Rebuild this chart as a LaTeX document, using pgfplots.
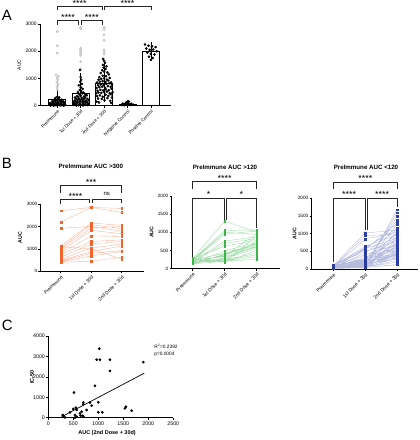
\documentclass[border=0pt]{standalone}
\usepackage{pgfplots}
\pgfplotsset{compat=1.18}
\usepackage{pgfplotstable}
\usepackage{fontspec}
\setmainfont{Liberation Sans}
\newcommand\ft[1]{\fontsize{#1}{#1}\selectfont}
\definecolor{orng}{HTML}{F0642D}
\definecolor{grn}{HTML}{3CB44A}
\definecolor{blu}{HTML}{2B3D9E}

% ---------- Panel A data ----------
\pgfplotstableread[row sep=\\]{x y\\
0 2720\\0 2200\\0 1930\\-0.05 1130\\0.05 1080\\0 1030\\0.02 960\\-0.02 870\\0.03 800\\0 700\\0 600\\
1 2870\\1 2820\\1 2110\\1 2060\\1 2010\\1 1960\\1 1900\\1 1850\\1 1620\\1 1350\\
2 2870\\2 2800\\2 2600\\2 2400\\2 2050\\2 1980\\2 1900\\}\Agray

\pgfplotstableread[row sep=\\]{x y\\
-0.30 20\\-0.20 35\\-0.10 15\\0.00 40\\0.10 25\\0.20 30\\0.30 18\\-0.25 60\\-0.15 70\\-0.05 55\\0.05 80\\0.15 65\\0.25 50\\
-0.30 90\\-0.18 100\\-0.06 110\\0.06 95\\0.18 120\\0.30 105\\-0.22 140\\-0.10 150\\0.02 130\\0.14 160\\0.26 145\\
-0.20 180\\-0.05 200\\0.10 190\\0.22 170\\-0.12 230\\0.04 250\\0.18 220\\-0.08 280\\0.08 300\\0.00 330\\
-0.15 10\\0.15 12\\0.25 8\\-0.28 5\\0.33 45\\-0.33 75\\0.12 40\\-0.02 20\\
0.70 30\\0.80 50\\0.90 20\\1.00 40\\1.10 60\\1.20 35\\1.30 25\\0.72 80\\0.84 100\\0.96 90\\1.08 110\\1.20 95\\1.32 75\\
0.68 130\\0.78 150\\0.88 140\\0.98 160\\1.08 170\\1.18 155\\1.28 135\\0.74 190\\0.86 210\\0.98 200\\1.10 220\\1.22 185\\1.34 205\\
0.80 250\\0.92 260\\1.04 240\\1.16 270\\1.28 255\\0.76 300\\0.90 320\\1.04 290\\1.18 310\\0.84 350\\1.00 370\\1.14 340\\1.26 380\\
0.94 420\\1.06 450\\1.20 410\\0.88 500\\1.02 530\\1.12 480\\0.96 580\\1.08 620\\1.00 680\\0.92 750\\1.05 800\\0.98 880\\1.02 950\\
1.00 1050\\0.97 1310\\1.10 10\\0.82 5\\
1.68 150\\1.78 120\\1.90 250\\2.02 200\\2.14 280\\2.26 180\\2.34 300\\1.70 350\\1.82 380\\1.94 330\\2.06 400\\2.18 360\\2.30 420\\
1.66 450\\1.76 480\\1.88 470\\2.00 500\\2.12 520\\2.24 460\\2.36 490\\1.72 550\\1.84 580\\1.96 560\\2.08 600\\2.20 570\\2.32 620\\
1.68 650\\1.80 680\\1.92 700\\2.04 660\\2.16 720\\2.28 690\\1.74 750\\1.86 780\\1.98 760\\2.10 800\\2.22 820\\2.34 770\\
1.70 850\\1.82 880\\1.94 900\\2.06 870\\2.18 920\\2.30 860\\1.76 950\\1.88 980\\2.00 1000\\2.12 960\\2.24 1020\\
1.80 1050\\1.94 1100\\2.08 1080\\2.20 1150\\1.86 1200\\2.00 1250\\2.14 1220\\1.92 1300\\2.06 1350\\1.98 1400\\2.10 1450\\
1.95 1500\\2.04 1580\\2.00 1650\\1.96 1720\\2.30 100\\1.74 260\\
2.75 30\\2.85 45\\2.95 60\\3.05 40\\3.15 55\\3.25 35\\2.80 75\\2.92 90\\3.04 85\\3.16 70\\3.00 110\\2.96 130\\3.06 150\\3.02 165\\2.88 20\\3.12 25\\
3.75 2250\\3.90 2200\\4.05 2180\\4.20 2150\\3.80 2100\\3.95 2050\\4.10 2060\\4.25 2000\\3.85 1950\\4.00 1900\\4.15 1880\\3.92 1800\\4.08 1750\\4.00 1680\\}\Ablack

% ---------- Panel B data (subjects separated by nan) ----------
\pgfplotstableread[row sep=\\]{x y\\
0 2700\\1 2850\\2 2800\\nan nan\\0 2200\\1 2850\\2 2620\\nan nan\\0 1920\\1 2000\\2 1780\\nan nan\\
0 1130\\1 2150\\2 2050\\nan nan\\0 1050\\1 2080\\2 1900\\nan nan\\0 1000\\1 1930\\2 2000\\nan nan\\
0 900\\1 1820\\2 1680\\nan nan\\0 820\\1 1580\\2 1550\\nan nan\\0 750\\1 1330\\2 1400\\nan nan\\
0 620\\1 1220\\2 1330\\nan nan\\0 550\\1 1030\\2 1220\\nan nan\\0 480\\1 880\\2 1130\\nan nan\\
0 450\\1 800\\2 920\\nan nan\\0 420\\1 690\\2 880\\nan nan\\0 400\\1 450\\2 620\\nan nan\\0 1100\\1 1000\\2 540\\}\Bor

\pgfplotstableread[row sep=\\]{x y\\
0 280\\1 1310\\2 1000\\nan nan\\0 260\\1 1050\\2 1070\\nan nan\\0 240\\1 1000\\2 950\\nan nan\\
0 220\\1 950\\2 1040\\nan nan\\0 200\\1 760\\2 880\\nan nan\\0 180\\1 700\\2 820\\nan nan\\
0 270\\1 620\\2 780\\nan nan\\0 160\\1 480\\2 740\\nan nan\\0 250\\1 420\\2 700\\nan nan\\
0 150\\1 380\\2 650\\nan nan\\0 230\\1 330\\2 620\\nan nan\\0 140\\1 300\\2 600\\nan nan\\
0 210\\1 270\\2 560\\nan nan\\0 190\\1 250\\2 420\\nan nan\\0 170\\1 230\\2 380\\nan nan\\
0 290\\1 210\\2 330\\nan nan\\0 135\\1 200\\2 260\\nan nan\\0 260\\1 190\\2 900\\nan nan\\
0 200\\1 180\\2 500\\nan nan\\0 150\\1 400\\2 680\\nan nan\\0 225\\1 350\\2 970\\nan nan\\0 175\\1 220\\2 750\\}\Bgr

\pgfplotstableread[row sep=\\]{x y\\
0 60\\1 60\\2 1680\\nan nan\\0 40\\1 80\\2 1590\\nan nan\\0 90\\1 120\\2 1490\\nan nan\\
0 30\\1 250\\2 1380\\nan nan\\0 70\\1 150\\2 1260\\nan nan\\0 100\\1 1020\\2 1100\\nan nan\\
0 50\\1 850\\2 1040\\nan nan\\0 80\\1 640\\2 970\\nan nan\\0 20\\1 580\\2 880\\nan nan\\
0 110\\1 500\\2 790\\nan nan\\0 60\\1 400\\2 690\\nan nan\\0 45\\1 340\\2 600\\nan nan\\
0 75\\1 260\\2 550\\nan nan\\0 35\\1 190\\2 460\\nan nan\\0 95\\1 120\\2 360\\nan nan\\
0 55\\1 80\\2 290\\nan nan\\0 25\\1 60\\2 190\\nan nan\\0 85\\1 40\\2 130\\nan nan\\
0 65\\1 300\\2 1000\\nan nan\\0 15\\1 210\\2 950\\nan nan\\0 105\\1 160\\2 1060\\nan nan\\
0 50\\1 100\\2 820\\nan nan\\0 70\\1 90\\2 740\\nan nan\\0 40\\1 70\\2 650\\nan nan\\
0 30\\1 50\\2 500\\nan nan\\0 80\\1 110\\2 420\\nan nan\\0 60\\1 140\\2 520\\nan nan\\
0 90\\1 180\\2 600\\nan nan\\0 20\\1 230\\2 700\\nan nan\\0 100\\1 270\\2 850\\nan nan\\
0 50\\1 450\\2 1120\\nan nan\\0 75\\1 550\\2 1300\\nan nan\\0 35\\1 60\\2 240\\nan nan\\
0 65\\1 130\\2 310\\nan nan\\0 115\\1 200\\2 380\\nan nan\\0 45\\1 90\\2 450\\nan nan\\
0 85\\1 35\\2 560\\nan nan\\0 55\\1 75\\2 680\\nan nan\\0 25\\1 110\\2 760\\nan nan\\
0 95\\1 160\\2 900\\nan nan\\0 10\\1 40\\2 120\\nan nan\\0 70\\1 65\\2 330\\nan nan\\
0 40\\1 100\\2 400\\nan nan\\0 60\\1 950\\2 980\\nan nan\\0 80\\1 600\\2 1150\\}\Bbl

% ---------- Panel C data ----------
\pgfplotstableread[row sep=\\]{x y\\
1020 3380\\967 2840\\1033 2840\\1233 2840\\1233 2290\\1900 2720\\933 1560\\513 1230\\
700 740\\700 660\\833 740\\867 590\\1000 754\\553 490\\500 430\\567 380\\433 260\\
300 100\\287 130\\333 16\\533 130\\533 0\\567 50\\633 210\\667 295\\687 98\\647 98\\
700 49\\1000 262\\1080 262\\1533 460\\1553 540\\1667 344\\767 377\\}\Cpts

\pgfplotsset{prism/.style={
  scale only axis, anchor=south west, clip=false,
  axis x line*=bottom, axis y line*=left,
  axis line style={line width=0.8pt, black},
  tick style={line width=0.7pt, black},
  tick align=outside, major tick length=2.2bp,
  /pgf/number format/assume math mode=true,
  /pgf/number format/set thousands separator={},
  yticklabel style={inner sep=1bp, font=\ft{5}},
  ylabel style={anchor=center},
},
rotlab/.style={xticklabel style={rotate=45, anchor=north east, inner sep=1bp, font=\ft{#1}}}}

\begin{document}
\begin{tikzpicture}
\useasboundingbox (0,0) rectangle (420bp,440bp);

% ---------------- A ----------------
\begin{axis}[prism, rotlab=4.6, at={(40bp,334.3bp)}, width=131bp, height=81.7bp,
  xmin=-0.74, xmax=4.86, ymin=0, ymax=3000,
  ytick={0,1000,2000,3000}, xtick={0,1,2,3,4},
  xticklabels={Preimmune,1st Dose + 30d,2nd Dose + 30d,Negative Control,Positive Control},
  ylabel={AUC}, ylabel style={at={(axis description cs:-0.16,0.5)}, font=\ft{5}}]
\addplot[ybar, bar width=17bp, fill=white, draw=black, line width=0.9pt,
  error bars/.cd, y dir=both, y explicit,
  error bar style={line width=0.7pt, black},
  error mark options={line width=0.7pt, black, mark size=3.5bp}]
  coordinates {(0,220) += (0,460) -= (0,0)
               (1,460) += (0,630) -= (0,0)
               (2,820) += (0,620) -= (0,560)
               (3,60)  += (0,0) -= (0,0)
               (4,1990) += (0,220) -= (0,200)};
\addplot[only marks, mark=*, mark size=1.2bp, draw=gray!50, fill=gray!25] table {\Agray};
\addplot[only marks, mark=*, mark size=1.1bp, black] table {\Ablack};
\end{axis}

% ---------------- B1 ----------------
\begin{axis}[prism, rotlab=4.8, at={(40.7bp,168.7bp)}, width=103.3bp, height=67.3bp,
  xmin=-0.66, xmax=2.73, ymin=0, ymax=3000,
  ytick={0,1000,2000,3000}, xtick={0,1,2},
  xticklabels={Preimmune,1st Dose + 30d,2nd Dose + 30d},
  yticklabel style={font=\ft{4.7}},
  unbounded coords=jump,
  ylabel={AUC}, ylabel style={at={(axis description cs:-0.2,0.5)}, font=\ft{5.2}\bfseries}]
\addplot[orng!45, line width=0.4pt, mark=none] table {\Bor};
\addplot[orng, only marks, mark=square*, mark size=0.9bp] table {\Bor};
\end{axis}

% ---------------- B2 ----------------
\begin{axis}[prism, rotlab=4.8, at={(171.7bp,171.3bp)}, width=108.3bp, height=72.7bp,
  xmin=-0.66, xmax=2.73, ymin=0, ymax=2000,
  ytick={0,500,1000,1500,2000}, xtick={0,1,2},
  xticklabels={Preimmune,1st Dose + 30d,2nd Dose + 30d},
  yticklabel style={font=\ft{4.7}},
  unbounded coords=jump,
  ylabel={AUC}, ylabel style={at={(axis description cs:-0.185,0.5)}, font=\ft{5.2}\bfseries}]
\addplot[grn!45, line width=0.4pt, mark=none] table {\Bgr};
\addplot[grn, only marks, mark=square*, mark size=0.9bp] table {\Bgr};
\end{axis}

% ---------------- B3 ----------------
\begin{axis}[prism, rotlab=4.8, at={(311.7bp,171bp)}, width=106.3bp, height=70.7bp,
  xmin=-0.675, xmax=2.65, ymin=0, ymax=2000,
  ytick={0,500,1000,1500,2000}, xtick={0,1,2},
  xticklabels={Preimmune,1st Dose + 30d,2nd Dose + 30d},
  yticklabel style={font=\ft{4.7}},
  unbounded coords=jump,
  ylabel={AUC}, ylabel style={at={(axis description cs:-0.16,0.5)}, font=\ft{5.2}\bfseries}]
\addplot[blu!35, line width=0.35pt, mark=none] table {\Bbl};
\addplot[blu, only marks, mark=square*, mark size=0.85bp] table {\Bbl};
\end{axis}

% ---------------- C ----------------
\begin{axis}[prism, at={(48.3bp,22.3bp)}, width=125bp, height=81.7bp,
  xmin=0, xmax=2500, ymin=0, ymax=4000,
  xtick={0,500,1000,1500,2000,2500}, ytick={0,1000,2000,3000,4000},
  xticklabel style={font=\ft{5.3}, inner sep=1.5bp},
  yticklabel style={font=\ft{5.3}},
  xlabel={AUC (2nd Dose + 30d)}, xlabel style={at={(axis description cs:0.47,-0.19)}, anchor=center, font=\ft{5.5}\bfseries},
  ylabel={IC-50}, ylabel style={at={(axis description cs:-0.13,0.5)}, font=\ft{5.5}\bfseries}]
\addplot[black, line width=0.7pt, mark=none] coordinates {(267,49) (1920,2180)};
\addplot[only marks, mark=*, mark size=1.15bp, black] table {\Cpts};
\end{axis}

% ---------------- annotations (pixel coords, y down) ----------------
\begin{scope}[x=1bp, y=-1bp, shift={(0bp,440bp)}, line width=0.75pt, draw=black!85]
  % panel letters
  \node[anchor=base west, inner sep=0, font=\ft{15}] at (1.5,20.7) {A};
  \node[anchor=base west, inner sep=0, font=\ft{15}] at (1.5,168.3) {B};
  \node[anchor=base west, inner sep=0, font=\ft{15}] at (1.5,331) {C};
  % A brackets
  \draw (57.3,25)--(57.3,20)--(78.8,20)--(78.8,25);
  \draw (81.5,25)--(81.5,20)--(102.3,20)--(102.3,25);
  \draw (57.3,10)--(57.3,6)--(102,6)--(102,10);
  \draw (104,10)--(104,6)--(151,6)--(151,10);
  \node[anchor=base, inner sep=0, font=\ft{9}] at (68,20.2) {****};
  \node[anchor=base, inner sep=0, font=\ft{9}] at (91.9,20.2) {****};
  \node[anchor=base, inner sep=0, font=\ft{9}] at (79.7,6.9) {****};
  \node[anchor=base, inner sep=0, font=\ft{9}] at (127.5,6.9) {****};
  % B titles
  \node[font=\ft{6.2}\bfseries] at (90.8,166) {PreImmune AUC >300};
  \node[font=\ft{6.2}\bfseries] at (225,167) {PreImmune AUC >120};
  \node[font=\ft{6.2}\bfseries] at (366,167) {PreImmune AUC <120};
  % B1 brackets
  \draw (60.7,193)--(60.7,185)--(121.7,185)--(121.7,193);
  \draw (60.7,204.5)--(60.7,199.3)--(89.5,199.3)--(89.5,203);
  \draw (92,203)--(92,199.3)--(121.7,199.3)--(121.7,203.5);
  \node[anchor=base, inner sep=0, font=\ft{9}] at (91.2,185.2) {***};
  \node[anchor=base, inner sep=0, font=\ft{9}] at (75.5,199.2) {****};
  \node[anchor=base, inner sep=0, font=\ft{6}] at (106.8,195.8) {ns};
  % B2 brackets
  \draw (192.7,189)--(192.7,181.7)--(256.7,181.7)--(256.7,189);
  \draw (192.7,257)--(192.7,198.3)--(224,198.3)--(224,220);
  \draw (226,220)--(226,198.3)--(256.7,198.3)--(256.7,228);
  \node[anchor=base, inner sep=0, font=\ft{9}] at (224.7,181.2) {****};
  \node[anchor=base, inner sep=0, font=\ft{9}] at (208.5,197.5) {*};
  \node[anchor=base, inner sep=0, font=\ft{9}] at (241.3,197.5) {*};
  % B3 brackets
  \draw (333.3,189)--(333.3,182.3)--(397.3,182.3)--(397.3,189);
  \draw (333.3,262)--(333.3,198.3)--(365,198.3)--(365,230);
  \draw (367,230)--(367,198.3)--(397.3,198.3)--(397.3,207);
  \node[anchor=base, inner sep=0, font=\ft{9}] at (365.3,181.9) {****};
  \node[anchor=base, inner sep=0, font=\ft{9}] at (349.2,197.5) {****};
  \node[anchor=base, inner sep=0, font=\ft{9}] at (382.2,197.5) {****};
  % C annotation
  \node[anchor=base west, inner sep=0, font=\ft{4.8}] at (154,348.4) {R\textsuperscript{2}=0.2392};
  \node[anchor=base west, inner sep=0, font=\ft{4.8}] at (154,355.6) {p=0.0004};
\end{scope}
\end{tikzpicture}
\end{document}
